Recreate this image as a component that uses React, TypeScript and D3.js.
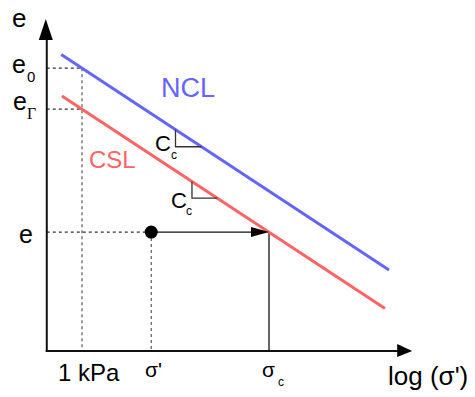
import * as d3 from 'd3';
import React from 'react';

// e - log(sigma') diagram: NCL and CSL, parallel lines of slope Cc
const lineNames = ['NCL', 'CSL'];
const lineColors = ['#6464ff', '#ff6464'];
const lineE1 = [1.38, 1.18];          // e at 1 kPa (e0, e_Gamma)
const lineFrom = [0.6, 0.61];         // kPa
const lineTo = [1920, 1740];          // kPa
const Cc = 0.3;

const slopeFrom = [10, 15];           // Cc triangles, one per line
const slopeTo = [19, 28];

const sigmaRef = 1;                   // 1 kPa
const sigmaNow = 5.5;                 // sigma'
const sigmaC = 100;                   // sigma_c
const eNow = lineE1[1] - Cc * Math.log10(sigmaC);

const axisX = [0.42, 3400];
const axisY = [0, 1.61];

const W = 475;
const H = 397;

const x = d3.scaleLog().domain([sigmaRef, sigmaC]).range([82, 269]);
const y = d3.scaleLinear().domain(axisY).range([351, 21]);

const eAt = (i: number, s: number) => lineE1[i] - Cc * Math.log10(s);

const font = '"Liberation Sans", Arial, sans-serif';

export default function App() {
  const x0 = x(axisX[0]);
  const x1 = x(axisX[1]);
  const y0 = y(axisY[0]);
  const y1 = y(axisY[1]);
  const line = d3.line<number>()
    .x(s => x(s));

  const dashed = { stroke: '#333', strokeWidth: 1.2, strokeDasharray: '3,3', fill: 'none' };

  return (
    <svg width={W} height={H} style={{ position: 'absolute', left: 0, top: 0, background: '#fff' }}
      fontFamily={font}>
      {/* guide lines */}
      <line x1={x0} x2={x(sigmaRef)} y1={y(lineE1[0])} y2={y(lineE1[0])} {...dashed} />
      <line x1={x0} x2={x(sigmaRef)} y1={y(lineE1[1])} y2={y(lineE1[1])} {...dashed} />
      <line x1={x(sigmaRef)} x2={x(sigmaRef)} y1={y(lineE1[0])} y2={y0} {...dashed} stroke="#555" />
      <line x1={x0} x2={x(sigmaNow)} y1={y(eNow)} y2={y(eNow)} {...dashed} />
      <line x1={x(sigmaNow)} x2={x(sigmaNow)} y1={y(eNow)} y2={y0} {...dashed} stroke="#555" />
      <line x1={x(sigmaC)} x2={x(sigmaC)} y1={y(eNow)} y2={y0} stroke="#111" strokeWidth={1.3} />

      {/* NCL / CSL */}
      {lineNames.map((n, i) => {
        const pts: [number, number][] = [[lineFrom[i], eAt(i, lineFrom[i])], [lineTo[i], eAt(i, lineTo[i])]];
        const p = d3.line<[number, number]>().x(d => x(d[0])).y(d => y(d[1]))(pts) as string;
        return <path key={n} d={p} stroke={lineColors[i]} strokeWidth={3} fill="none" />;
      })}

      {/* Cc triangles */}
      {slopeFrom.map((s, i) => {
        const xa = x(s), xb = x(slopeTo[i]);
        const ya = y(eAt(i, s)), yb = y(eAt(i, slopeTo[i]));
        return <path key={i} d={`M${xa},${ya}V${yb}H${xb}`} stroke="#333" strokeWidth={1.3} fill="none" />;
      })}

      {/* loading arrow */}
      <line x1={x(sigmaNow)} x2={x(sigmaC) - 16} y1={y(eNow)} y2={y(eNow)} stroke="#111" strokeWidth={1.3} />
      <path d={`M${x(sigmaC)},${y(eNow)}L${x(sigmaC) - 18},${y(eNow) - 5}L${x(sigmaC) - 18},${y(eNow) + 5}Z`} fill="#000" />
      <circle cx={x(sigmaNow)} cy={y(eNow)} r={6.5} fill="#000" />

      {/* axes */}
      <line x1={x0} x2={x0} y1={y0 + 1} y2={y1 + 18} stroke="#111" strokeWidth={2} />
      <path d={`M${x0 - 1},${y1 - 2}L${x0 - 8},${y1 + 19}L${x0 + 6},${y1 + 19}Z`} fill="#000" />
      <line x1={x0 - 1} x2={x1 - 14} y1={y0} y2={y0} stroke="#111" strokeWidth={2} />
      <path d={`M${x1},${y0}L${x1 - 15},${y0 - 7}L${x1 - 15},${y0 + 6}Z`} fill="#000" />

      {/* labels */}
      <g fill="#000">
        <text x={12} y={27} fontSize={26}>e</text>
        <text x={12} y={73} fontSize={25}>e</text>
        <text x={27} y={82} fontSize={15}>0</text>
        <text x={13} y={110} fontSize={25}>e</text>
        <text x={27} y={119} fontSize={16} fontFamily='"Liberation Serif", serif'>Γ</text>
        <text x={19} y={243} fontSize={25}>e</text>

        <text x={155} y={151} fontSize={22}>C</text>
        <text x={171} y={159} fontSize={12}>c</text>
        <text x={171} y={208} fontSize={22}>C</text>
        <text x={186} y={215} fontSize={12}>c</text>

        <text x={58} y={381} fontSize={24}>1 kPa</text>
        <text x={145} y={377} fontSize={21}>σ'</text>
        <text x={262} y={377} fontSize={21}>σ</text>
        <text x={278} y={386} fontSize={12}>c</text>
        <text x={388} y={385} fontSize={26}>log (σ')</text>
      </g>
      <text x={161} y={97} fontSize={27} fill={lineColors[0]}>{lineNames[0]}</text>
      <text x={89} y={168} fontSize={24} fill={lineColors[1]}>{lineNames[1]}</text>
    </svg>
  );
}
